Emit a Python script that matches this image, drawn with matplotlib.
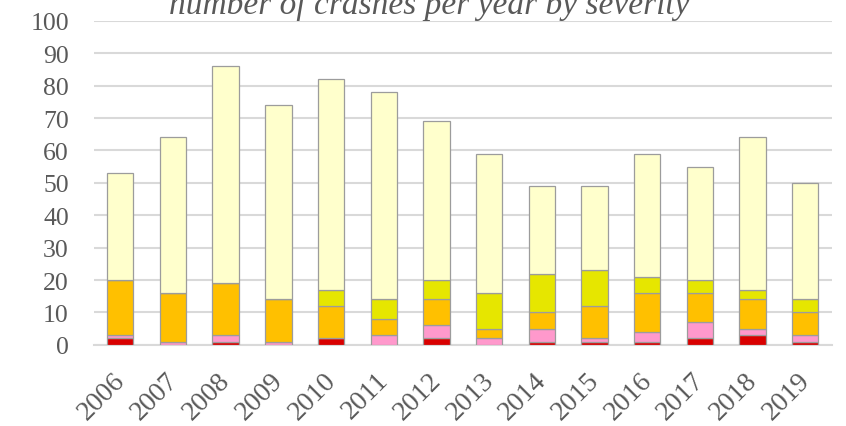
import matplotlib
matplotlib.use("Agg")
import matplotlib.pyplot as plt
import matplotlib.transforms as mtransforms
import numpy as np

# crashes per year, split by severity (bottom to top of each stack)
years = [str(y) for y in range(2006, 2020)]
fatal = [2, 0, 1, 0, 2, 0, 2, 0, 1, 1, 1, 2, 3, 1]
serious = [1, 1, 2, 1, 0, 3, 4, 2, 4, 1, 3, 5, 2, 2]
minor = [17, 15, 16, 13, 10, 5, 8, 3, 5, 10, 12, 9, 9, 7]
possible = [0, 0, 0, 0, 5, 6, 6, 11, 12, 11, 5, 4, 3, 4]
no_injury = [33, 48, 67, 60, 65, 64, 49, 43, 27, 26, 38, 35, 47, 36]

series = [fatal, serious, minor, possible, no_injury]
colors = ["#D90000", "#FF99CC", "#FFC000", "#E6E600", "#FFFFCC"]

plt.rcParams["font.family"] = ["Liberation Serif", "DejaVu Serif"]

fig = plt.figure(figsize=(8.46, 4.27), dpi=100)
ax = fig.add_axes([0.111, 0.19, 0.872, 0.759])

x = np.arange(len(years))
bottom = np.zeros(len(years))
for vals, col in zip(series, colors):
    ax.bar(x, vals, width=0.5, bottom=bottom, color=col,
           edgecolor="#9C9C9C", linewidth=0.9, zorder=3)
    bottom += np.array(vals)

ax.set_xlim(-0.5, len(years) - 0.5)
ax.set_ylim(0, 100)
ax.set_yticks(range(0, 101, 10))
ax.yaxis.grid(True, color="#D9D9D9", linewidth=1.5, zorder=0)
ax.set_axisbelow(True)

for side in ["left", "right", "top"]:
    ax.spines[side].set_visible(False)
ax.spines["bottom"].set_color("#D9D9D9")
ax.spines["bottom"].set_linewidth(1.5)

ax.tick_params(axis="both", length=0, colors="#595959")
ax.tick_params(axis="y", pad=18, labelsize=18.5)
ax.set_xticks(x)
ax.set_xticklabels(years, rotation=45, ha="right", rotation_mode="anchor")
ax.tick_params(axis="x", pad=16, labelsize=20)

# nudge the slanted year labels a little to the left
shift = mtransforms.ScaledTranslation(-0.08, 0, fig.dpi_scale_trans)
for lbl in ax.get_xticklabels():
    lbl.set_transform(lbl.get_transform() + shift)

# title sits against the top edge, ascenders run past the frame
fig.text(0.507, 0.967, "number of crashes per year by severity",
         ha="center", va="baseline", fontsize=24, style="italic",
         color="#595959")

fig.savefig("out.png", dpi=100)
